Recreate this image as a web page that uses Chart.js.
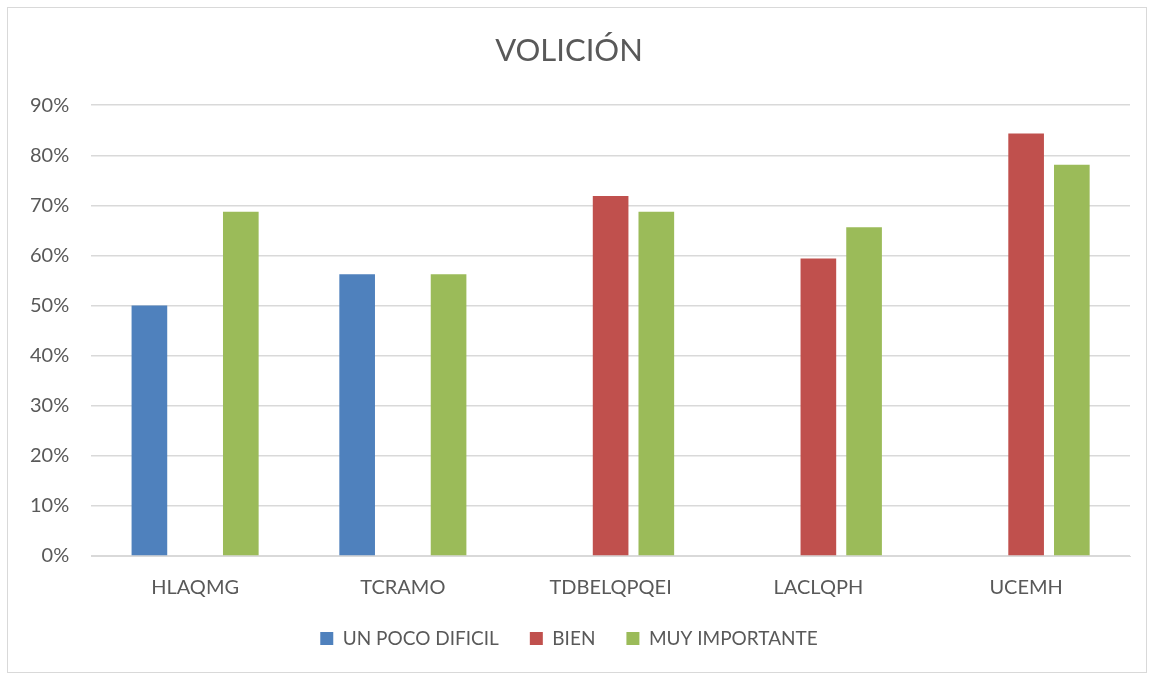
<!DOCTYPE html>
<html>
<head>
<meta charset="utf-8">
<script src="https://cdn.jsdelivr.net/npm/chart.js@4"></script>
<style>
  body { margin: 0; background: #fff; }
  #box { position: absolute; left: 7px; top: 7px; width: 1138px; height: 664px; border: 1px solid #d9d9d9; }
  canvas { display: block; }
</style>
</head>
<body>
<div id="box"><canvas id="chartCanvas" width="1138" height="664"></canvas></div>
<script>
const categories = ["HLAQMG", "TCRAMO", "TDBELQPQEI", "LACLQPH", "UCEMH"];
const unPocoDificil = [50, 56.25, null, null, null];
const bien = [null, null, 71.875, 59.375, 84.375];
const muyImportante = [68.75, 56.25, 68.75, 65.625, 78.125];

const textColor = "#595959";
const fontName = "Lato, 'Open Sans', sans-serif";

const chartCanvas = document.getElementById("chartCanvas");

const barChart = new Chart(chartCanvas, {
    type: "bar",
    data: {
        labels: categories,
        datasets: [
            {
                label: "UN POCO DIFICIL",
                data: unPocoDificil,
                backgroundColor: "#4f81bd"
            },
            {
                label: "BIEN",
                data: bien,
                backgroundColor: "#c0504d"
            },
            {
                label: "MUY IMPORTANTE",
                data: muyImportante,
                backgroundColor: "#9bbb59"
            }
        ]
    },
    options: {
        responsive: false,
        animation: false,
        layout: { padding: { left: 0, right: 16, top: 10, bottom: 14 } },
        datasets: {
            bar: { categoryPercentage: 0.66, barPercentage: 0.78 }
        },
        plugins: {
            title: {
                display: true,
                text: "VOLICIÓN",
                color: textColor,
                font: { family: fontName, size: 31, weight: "normal" },
                padding: { top: 14, bottom: 36 }
            },
            legend: {
                position: "bottom",
                labels: {
                    color: textColor,
                    font: { family: fontName, size: 19 },
                    boxWidth: 13,
                    boxHeight: 13,
                    padding: 31
                }
            },
            tooltip: { enabled: false }
        },
        scales: {
            x: {
                grid: { display: false },
                border: { color: "#d9d9d9" },
                ticks: { color: textColor, font: { family: fontName, size: 20 }, padding: 12 },
                afterFit: scale => { scale.height = 42; }
            },
            y: {
                min: 0,
                max: 90,
                ticks: {
                    stepSize: 10,
                    color: textColor,
                    font: { family: fontName, size: 20 },
                    padding: 22,
                    callback: v => v + "%"
                },
                grid: { color: "#d9d9d9", lineWidth: 1.5, drawTicks: false },
                border: { display: false }
            }
        }
    }
});
</script>
</body>
</html>
